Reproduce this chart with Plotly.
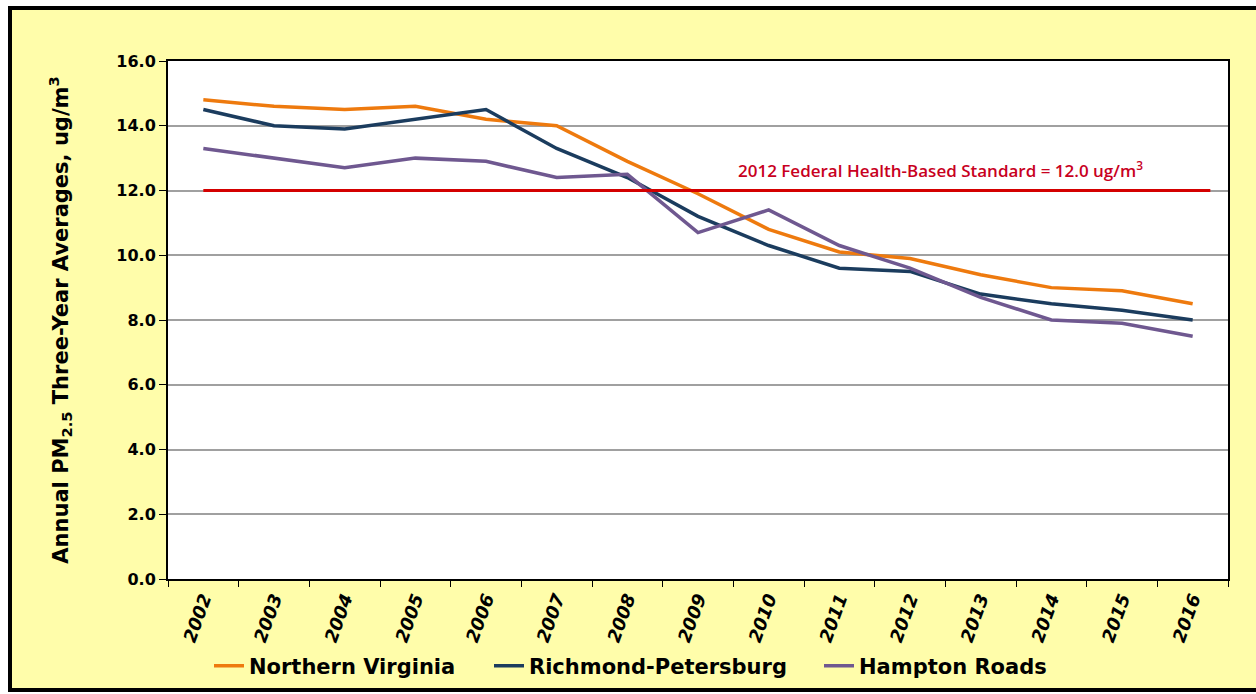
import plotly.graph_objects as go

years = [str(y) for y in range(2002, 2017)]
northern_virginia = [14.8, 14.6, 14.5, 14.6, 14.2, 14.0, 12.9, 11.9, 10.8, 10.1, 9.9, 9.4, 9.0, 8.9, 8.5]
richmond_petersburg = [14.5, 14.0, 13.9, 14.2, 14.5, 13.3, 12.4, 11.2, 10.3, 9.6, 9.5, 8.8, 8.5, 8.3, 8.0]
hampton_roads = [13.3, 13.0, 12.7, 13.0, 12.9, 12.4, 12.5, 10.7, 11.4, 10.3, 9.6, 8.7, 8.0, 7.9, 7.5]
STANDARD = 12.0
y_ticks = [0, 2, 4, 6, 8, 10, 12, 14, 16]

series = [
    ("Northern Virginia", northern_virginia, "#EE7A0E", "legend", 215),
    ("Richmond-Petersburg", richmond_petersburg, "#1B3C5E", "legend2", 495),
    ("Hampton Roads", hampton_roads, "#6F5890", "legend3", 825),
]

BOLD = "DejaVu Sans, Arial"

W, H = 1256, 694
L, R, T, B = 168, 28, 61, 115
pw, ph = W - L - R, H - T - B

def px_x(p):
    return (p - L) / pw

def px_y(p):
    return (H - B - p) / ph

fig = go.Figure()
legends = {}
for name, vals, col, lg, lx in series:
    fig.add_trace(go.Scatter(x=years, y=vals, name=name, mode="lines", legend=lg,
                             line=dict(color=col, width=3.5)))
    legends[lg] = dict(orientation="h", xref="container", yref="container",
                       x=(lx - 6) / W, xanchor="left", y=(H - 666) / H, yanchor="middle",
                       font=dict(family=BOLD, size=21, color="black", weight="bold"),
                       bgcolor="rgba(0,0,0,0)", itemwidth=30)

# outer yellow frame
fig.add_shape(type="rect", xref="paper", yref="paper",
              x0=px_x(10), x1=px_x(1275), y0=px_y(690), y1=px_y(8),
              fillcolor="#FFFDAA", line=dict(color="black", width=4), layer="below")
# white plot area
fig.add_shape(type="rect", xref="paper", yref="paper", x0=0, x1=1, y0=0, y1=1,
              fillcolor="white", line=dict(width=0), layer="below")
# standard line
fig.add_shape(type="line", xref="x", yref="y", x0=0, x1=14.25, y0=STANDARD, y1=STANDARD,
              line=dict(color="#D40000", width=3))

fig.add_annotation(x=px_x(940), xref="paper", xanchor="center", y=12.66, yref="y", yanchor="middle",
                   text="2012 Federal Health-Based Standard = 12.0 ug/m<sup>3</sup>",
                   showarrow=False, font=dict(family="Open Sans", size=17, color="#C8001E", weight=600))

fig.update_layout(
    width=W, height=H,
    margin=dict(l=L, r=R, t=T, b=B, autoexpand=False),
    paper_bgcolor="white", plot_bgcolor="rgba(0,0,0,0)",
    showlegend=True,
    font=dict(family=BOLD, color="black"),
    **legends,
)
fig.update_xaxes(type="category", range=[-0.5, 14.5], tickangle=-70, tickson="boundaries",
                 ticks="outside", ticklen=6, tickcolor="black", showgrid=False,
                 showline=True, linecolor="black", linewidth=2, mirror=True,
                 tickfont=dict(family=BOLD, size=18, weight="bold", style="italic", color="black"))
fig.update_yaxes(range=[0, 16], tickvals=y_ticks, tickformat=".1f", ticks="outside", ticklen=7,
                 tickcolor="black", showgrid=True, gridcolor="#A0A0A0", gridwidth=1.5,
                 showline=True, linecolor="black", linewidth=2, mirror=True, zeroline=False,
                 tickfont=dict(family=BOLD, size=16, weight="bold", color="black"),
                 title=dict(text="Annual PM<sub>2.5</sub> Three-Year Averages, ug/m<sup>3</sup>",
                            font=dict(family=BOLD, size=21, weight="bold", color="black"), standoff=42))

fig.write_html("out.html", config={"displayModeBar": False},
               post_script="document.body.style.margin='0';")
